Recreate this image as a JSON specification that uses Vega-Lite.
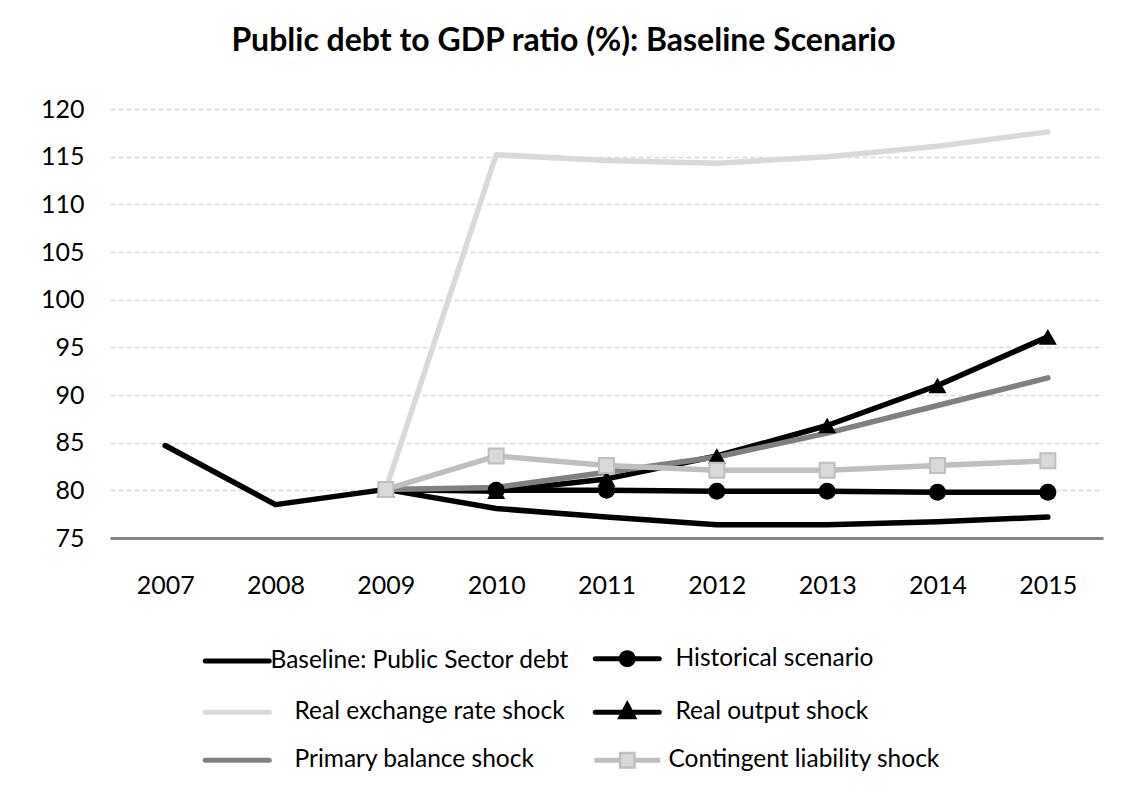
{
  "$schema": "https://vega.github.io/schema/vega-lite/v6.json",
  "width": 993,
  "height": 429,
  "autosize": {"type": "none"},
  "padding": {"left": 110, "top": 109, "right": 27, "bottom": 259},
  "background": "#ffffff",
  "title": {
    "text": "Public debt to GDP ratio (%): Baseline Scenario",
    "font": "Lato",
    "fontSize": 32,
    "fontWeight": "bold",
    "color": "#000000",
    "anchor": "middle",
    "frame": "group",
    "baseline": "alphabetic",
    "dx": -43,
    "offset": 14
  },
  "config": {
    "view": {"stroke": null},
    "font": "Lato"
  },
  "data": {
    "values": [
      {"year": "2007", "series": "Baseline: Public Sector debt", "value": 84.7},
      {"year": "2008", "series": "Baseline: Public Sector debt", "value": 78.5},
      {"year": "2009", "series": "Baseline: Public Sector debt", "value": 80.1},
      {"year": "2010", "series": "Baseline: Public Sector debt", "value": 78.1},
      {"year": "2011", "series": "Baseline: Public Sector debt", "value": 77.2},
      {"year": "2012", "series": "Baseline: Public Sector debt", "value": 76.4},
      {"year": "2013", "series": "Baseline: Public Sector debt", "value": 76.4},
      {"year": "2014", "series": "Baseline: Public Sector debt", "value": 76.7},
      {"year": "2015", "series": "Baseline: Public Sector debt", "value": 77.2},
      {"year": "2009", "series": "Historical scenario", "value": 80.1},
      {"year": "2010", "series": "Historical scenario", "value": 80.0},
      {"year": "2011", "series": "Historical scenario", "value": 80.0},
      {"year": "2012", "series": "Historical scenario", "value": 79.9},
      {"year": "2013", "series": "Historical scenario", "value": 79.9},
      {"year": "2014", "series": "Historical scenario", "value": 79.8},
      {"year": "2015", "series": "Historical scenario", "value": 79.8},
      {"year": "2009", "series": "Real exchange rate shock", "value": 80.1},
      {"year": "2010", "series": "Real exchange rate shock", "value": 115.2},
      {"year": "2011", "series": "Real exchange rate shock", "value": 114.6},
      {"year": "2012", "series": "Real exchange rate shock", "value": 114.3},
      {"year": "2013", "series": "Real exchange rate shock", "value": 115.0},
      {"year": "2014", "series": "Real exchange rate shock", "value": 116.1},
      {"year": "2015", "series": "Real exchange rate shock", "value": 117.6},
      {"year": "2009", "series": "Real output shock", "value": 80.1},
      {"year": "2010", "series": "Real output shock", "value": 79.9},
      {"year": "2011", "series": "Real output shock", "value": 81.2},
      {"year": "2012", "series": "Real output shock", "value": 83.6},
      {"year": "2013", "series": "Real output shock", "value": 86.8},
      {"year": "2014", "series": "Real output shock", "value": 91.0},
      {"year": "2015", "series": "Real output shock", "value": 96.1},
      {"year": "2009", "series": "Primary balance shock", "value": 80.1},
      {"year": "2010", "series": "Primary balance shock", "value": 80.3},
      {"year": "2011", "series": "Primary balance shock", "value": 81.9},
      {"year": "2012", "series": "Primary balance shock", "value": 83.5},
      {"year": "2013", "series": "Primary balance shock", "value": 86.0},
      {"year": "2014", "series": "Primary balance shock", "value": 88.9},
      {"year": "2015", "series": "Primary balance shock", "value": 91.8},
      {"year": "2009", "series": "Contingent liability shock", "value": 80.1},
      {"year": "2010", "series": "Contingent liability shock", "value": 83.6},
      {"year": "2011", "series": "Contingent liability shock", "value": 82.6},
      {"year": "2012", "series": "Contingent liability shock", "value": 82.1},
      {"year": "2013", "series": "Contingent liability shock", "value": 82.1},
      {"year": "2014", "series": "Contingent liability shock", "value": 82.6},
      {"year": "2015", "series": "Contingent liability shock", "value": 83.1}
    ]
  },
  "encoding": {
    "x": {
      "field": "year",
      "type": "ordinal",
      "sort": null,
      "scale": {"type": "point", "padding": 0.5},
      "axis": {
        "title": null,
        "labelAngle": 0,
        "labelFont": "Lato",
        "labelFontSize": 25,
        "labelColor": "#000000",
        "labelPadding": 35,
        "ticks": false,
        "grid": false,
        "domain": true,
        "domainColor": "#868686",
        "domainWidth": 3
      }
    },
    "y": {
      "field": "value",
      "type": "quantitative",
      "scale": {"domain": [75, 120], "nice": false, "zero": false},
      "axis": {
        "title": null,
        "values": [75, 80, 85, 90, 95, 100, 105, 110, 115, 120],
        "labelFont": "Lato",
        "labelFontSize": 25,
        "labelColor": "#000000",
        "labelPadding": 26,
        "ticks": false,
        "domain": false,
        "grid": true,
        "gridColor": "#d9d9d9",
        "gridWidth": 1.5,
        "gridDash": [5, 3]
      }
    }
  },
  "layer": [
    {
      "mark": {"type": "line", "strokeWidth": 5.5, "strokeCap": "round", "strokeJoin": "round"},
      "encoding": {
        "color": {
          "field": "series",
          "type": "nominal",
          "scale": {
            "domain": ["Baseline: Public Sector debt", "Historical scenario", "Real exchange rate shock", "Real output shock", "Primary balance shock", "Contingent liability shock"],
            "range": ["#000000", "#000000", "#d9d9d9", "#000000", "#808080", "#bfbfbf"]
          },
          "legend": {
            "title": null,
            "orient": "none",
            "legendX": 115,
            "legendY": 537,
            "direction": "horizontal",
            "columns": 2,
            "padding": 0,
            "columnPadding": 16,
            "rowPadding": 20,
            "symbolSize": 1600,
            "labelOffset": 21,
            "labelFont": "Lato",
            "labelFontSize": 24.5,
            "labelColor": "#000000",
            "labelLimit": 500,
            "encode": {
              "labels": {
                "update": {
                  "dx": {"signal": "datum.value === 'Baseline: Public Sector debt' ? 0 : (datum.value === 'Historical scenario' || datum.value === 'Real output shock') ? 15 : datum.value === 'Contingent liability shock' ? 8 : 24"}
                }
              },
              "symbols": {
                "update": {
                  "shape": {"signal": "datum.value === 'Historical scenario' ? 'M-1.6,0H1.6M-0.3,0A0.3,0.3,0,1,1,0.3,0A0.3,0.3,0,1,1,-0.3,0Z' : datum.value === 'Real output shock' ? 'M-1.6,0H1.6M0,-0.35L0.3,0.22L-0.3,0.22Z' : datum.value === 'Contingent liability shock' ? 'M-1.6,-0.0625H-0.36M-1.6,0.0625H-0.36M0.36,-0.0625H1.6M0.36,0.0625H1.6M-0.36,-0.36H0.36V0.36H-0.36Z' : 'M-1.6,0H1.6'"},
                  "fill": {"signal": "(datum.value === 'Historical scenario' || datum.value === 'Real output shock') ? '#000000' : datum.value === 'Contingent liability shock' ? '#d9d9d9' : 'transparent'"},
                  "stroke": {"signal": "(datum.value === 'Baseline: Public Sector debt' || datum.value === 'Historical scenario' || datum.value === 'Real output shock') ? '#000000' : datum.value === 'Real exchange rate shock' ? '#d9d9d9' : datum.value === 'Primary balance shock' ? '#808080' : '#bfbfbf'"},
                  "strokeWidth": {"signal": "datum.value === 'Contingent liability shock' ? 2.5 : 5"},
                  "strokeCap": {"value": "round"},
                  "size": {"value": 1600},
                  "opacity": {"value": 1}
                }
              }
            }
          }
        }
      }
    },
    {
      "transform": [{"filter": "datum.series === 'Historical scenario'"}],
      "mark": {"type": "point", "shape": "circle", "filled": true, "size": 289, "color": "#000000", "opacity": 1}
    },
    {
      "transform": [{"filter": "datum.series === 'Real output shock'"}],
      "mark": {"type": "point", "shape": "triangle-up", "filled": true, "size": 324, "color": "#000000", "opacity": 1}
    },
    {
      "transform": [{"filter": "datum.series === 'Contingent liability shock'"}],
      "mark": {"type": "point", "shape": "square", "filled": true, "size": 225, "fill": "#d9d9d9", "stroke": "#bfbfbf", "strokeWidth": 2, "opacity": 1}
    }
  ]
}
